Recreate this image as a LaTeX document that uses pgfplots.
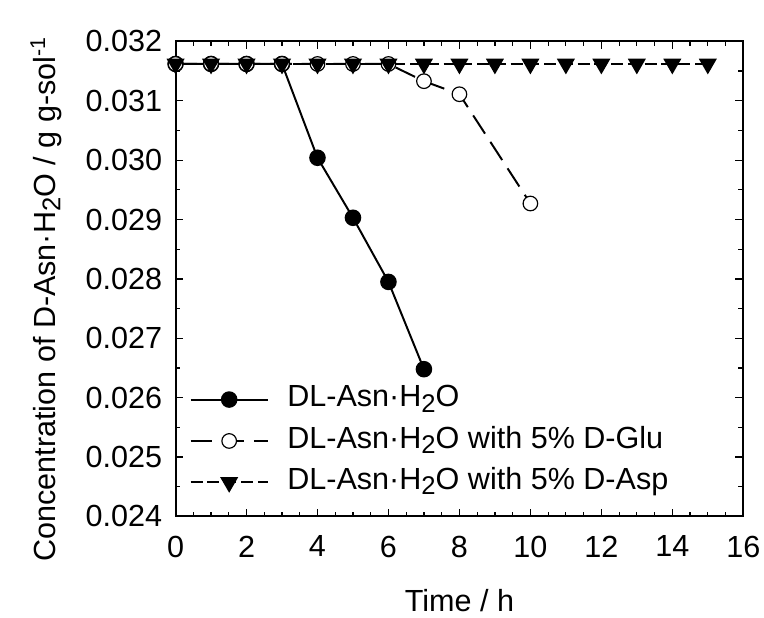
\documentclass[border=0pt]{standalone}
\usepackage{fontspec}
\setmainfont{Liberation Sans}
\usepackage{pgfplots}
\pgfplotsset{compat=1.18}
\begin{document}
\newcommand{\fs}{\fontsize{15.5}{18}\selectfont}
\newcommand{\sub}[1]{\raisebox{-0.32ex}{\fontsize{13}{13}\selectfont #1}}
\begin{tikzpicture}
\begin{axis}[
  scale only axis,
  width=288pt, height=241pt,
  xmin=0, xmax=16, ymin=0.024, ymax=0.032,
  xtick={0,2,...,16},
  ytick={0.024,0.025,0.026,0.027,0.028,0.029,0.030,0.031,0.032},
  minor x tick num=3,
  minor y tick num=1,
  tick align=inside,
  tick pos=both,
  major tick length=4pt,
  minor tick length=2.5pt,
  every tick/.style={black, line width=0.6pt},
  axis line style={line width=1pt},
  scaled y ticks=false,
  /pgf/number format/assume math mode=true,
  yticklabel style={/pgf/number format/fixed, /pgf/number format/fixed zerofill, /pgf/number format/precision=3, xshift=-3.3pt},
  tick label style={font=\fs},
  xticklabel style={yshift=-6.3pt},
  clip=false,
  xlabel={Time / h},
  ylabel={Concentration of D-Asn·H\sub{2}O / g g-sol\textsuperscript{-1}},
  every axis x label/.style={at={(rel axis cs:0.5,-0.1992)}, anchor=base, font=\fs},
  every axis y label/.style={at={(rel axis cs:-0.2118,0.4575)}, rotate=90, anchor=base, font=\fs},
  legend cell align=left,
  legend style={draw=none, fill=none, at={(rel axis cs:0.0243,0.277)}, anchor=north west,
    inner sep=0pt, font=\fs, row sep=6.5pt,
    nodes={inner sep=0pt, text height=11pt, text depth=3.5pt},
    /tikz/every odd column/.append style={column sep=9.5pt}},
  legend image code/.code={\draw[mark repeat=2,mark phase=2,#1] plot coordinates {(0pt,0pt) (19.5pt,0pt) (39pt,0pt)};},
]
\addplot[black, line width=1pt, mark=*, mark size=3.7pt, mark options={solid, fill=black}]
  coordinates {(0,0.03162) (1,0.03162) (2,0.03162) (3,0.03162) (4,0.03004) (5,0.02903) (6,0.02795) (7,0.02648)};
\addlegendentry{DL-Asn·H\sub{2}O}
\addplot[black, line width=1pt, dash pattern=on 11pt off 5pt, mark=*, mark size=3.7pt, mark options={solid, draw=black, fill=white, line width=0.6pt}]
  coordinates {(0,0.03162) (1,0.03162) (2,0.03162) (3,0.03162) (4,0.03162) (5,0.03162) (6,0.03162) (7,0.03133) (8,0.03111) (10,0.02927)};
\addlegendentry{DL-Asn·H\sub{2}O with 5\% D-Glu}
\addplot[black, line width=1pt, dash pattern=on 6pt off 2.5pt, mark=triangle*, mark size=4.3pt, mark options={solid, fill=black, rotate=180}]
  coordinates {(0,0.03162) (1,0.03162) (2,0.03162) (3,0.03162) (4,0.03162) (5,0.03162) (6,0.03162) (7,0.03162) (8,0.03162) (9,0.03162) (10,0.03162) (11,0.03162) (12,0.03162) (13,0.03162) (14,0.03162) (15,0.03162)};
\addlegendentry{DL-Asn·H\sub{2}O with 5\% D-Asp}
\coordinate (SW) at (rel axis cs:0,0);
\coordinate (NE) at (rel axis cs:1,1);
\end{axis}
\pgfresetboundingbox
\useasboundingbox ([shift={(-83.5pt,-51pt)}]SW) rectangle ([shift={(10.5pt,21pt)}]NE);
\end{tikzpicture}
\end{document}
